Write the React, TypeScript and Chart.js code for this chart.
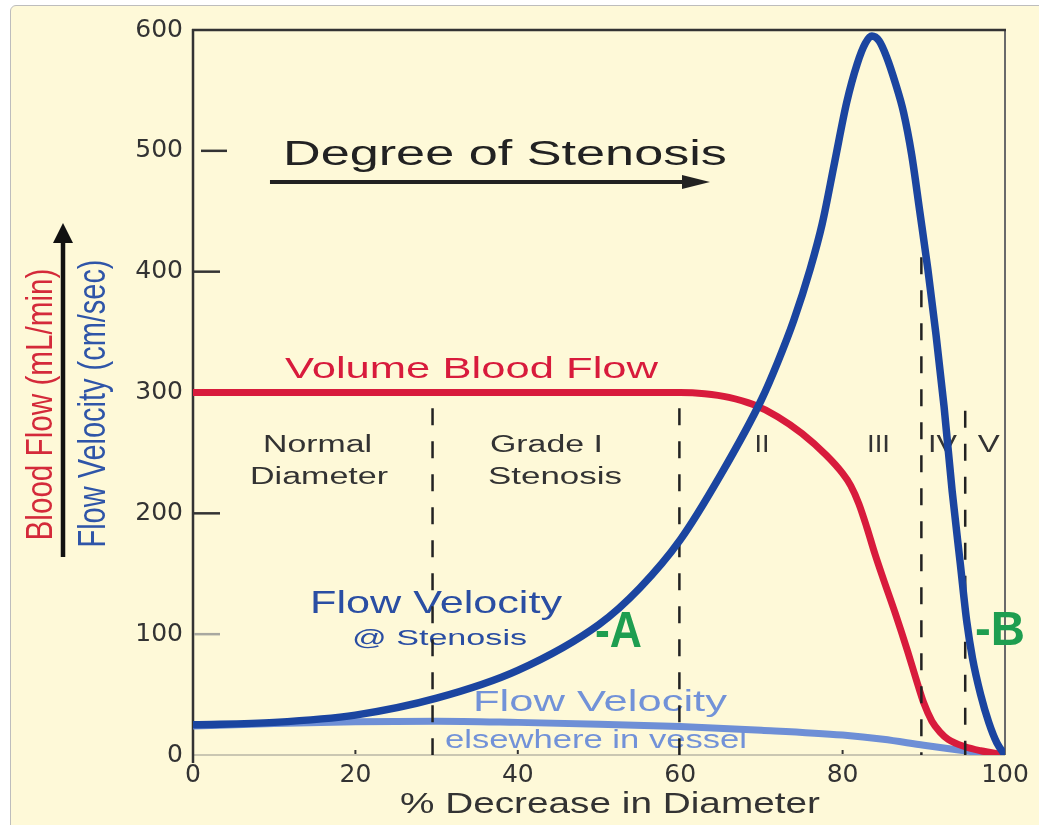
import React, { useEffect, useRef } from "react";
import { Chart, registerables } from "chart.js";

Chart.register(...registerables);

// ---- data ----
const stenosisPct = [0, 10, 20, 30, 40, 50, 55, 60, 65, 70, 72, 74, 76, 77.5, 79, 80.5, 81.8, 82.8, 83.6, 84.5, 85.4, 86.5, 87.5, 88.5, 89.5, 90.5, 91.5, 92.5, 93.5, 94.5, 95.3, 96, 97, 98, 99, 100];
const velocityAtStenosis = [25, 27, 33, 47, 70, 108, 138, 178, 232, 294, 325, 360, 402, 440, 490, 540, 572, 589, 595, 591, 578, 556, 532, 497, 450, 402, 348, 288, 218, 158, 110, 80, 50, 27, 10, 0];

const flowPct = [0, 20, 40, 60, 63, 66, 69, 72, 75, 78, 80, 81, 82, 83, 84, 85, 86.5, 88, 89, 90, 91, 92, 93, 95, 97, 100];
const volumeFlow = [300, 300, 300, 300, 299, 296, 290, 280, 266, 248, 233, 223, 208, 188, 166, 146, 117, 86, 64, 43, 28, 19, 13, 7, 3.5, 0];

const elsewherePct = [0, 10, 20, 30, 40, 50, 60, 70, 80, 85, 90, 95, 100];
const velocityElsewhere = [24, 26, 27.5, 28, 27, 25.5, 23.5, 20.5, 16.5, 13, 8, 3.5, 0];

const gradeBoundaries = [29.5, 59.9, 89.7, 95.1];
const gradeBoundaryTops = [287, 287, 412, 285];

const yTickValues = [100, 200, 300, 400, 500];
const xMinorTicks = [20, 40, 80];

// ---- styles ----
const CREAM = "#fef9d8";
const RED = "#d81b3c";
const DBLUE = "#1b45a0";
const LBLUE = "#6e8fd6";
const DBLUE_TEXT = "#2a4ea3";
const LBLUE_TEXT = "#7292d8";
const GREEN = "#1e9e50";
const FONT = '"Liberation Sans", Arial, Helvetica, sans-serif';

const toPoints = (xs: number[], ys: number[]) => xs.map((x, i) => ({ x, y: ys[i] }));

function stretchedText(
  ctx: CanvasRenderingContext2D,
  text: string,
  cx: number,
  base: number,
  size: number,
  width: number,
  color: string,
  weight = "normal"
) {
  ctx.save();
  ctx.font = `${weight} ${size}px ${FONT}`;
  const w = ctx.measureText(text).width;
  ctx.translate(cx, base);
  ctx.scale(width / w, 1);
  ctx.fillStyle = color;
  ctx.textAlign = "center";
  ctx.textBaseline = "alphabetic";
  ctx.fillText(text, 0, 0);
  ctx.restore();
}

function rotatedText(
  ctx: CanvasRenderingContext2D,
  text: string,
  baseX: number,
  cy: number,
  size: number,
  length: number,
  capH: number,
  color: string
) {
  ctx.save();
  ctx.font = `normal ${size}px ${FONT}`;
  const w = ctx.measureText(text).width;
  ctx.translate(baseX, cy);
  ctx.rotate(-Math.PI / 2);
  ctx.scale(length / w, capH / (0.716 * size));
  ctx.fillStyle = color;
  ctx.textAlign = "center";
  ctx.textBaseline = "alphabetic";
  ctx.fillText(text, 0, 0);
  ctx.restore();
}

function arrow(
  ctx: CanvasRenderingContext2D,
  x1: number,
  y1: number,
  x2: number,
  y2: number,
  lw: number,
  headLen: number,
  headHalf: number,
  color: string
) {
  const ang = Math.atan2(y2 - y1, x2 - x1);
  const bx = x2 - Math.cos(ang) * headLen;
  const by = y2 - Math.sin(ang) * headLen;
  ctx.save();
  ctx.strokeStyle = color;
  ctx.fillStyle = color;
  ctx.lineWidth = lw;
  ctx.beginPath();
  ctx.moveTo(x1, y1);
  ctx.lineTo(bx + Math.cos(ang) * 2, by + Math.sin(ang) * 2);
  ctx.stroke();
  ctx.beginPath();
  ctx.moveTo(x2, y2);
  ctx.lineTo(bx - Math.sin(ang) * headHalf, by + Math.cos(ang) * headHalf);
  ctx.lineTo(bx + Math.sin(ang) * headHalf, by - Math.cos(ang) * headHalf);
  ctx.closePath();
  ctx.fill();
  ctx.restore();
}

type Lbl = { t: string; x: number; y: number; size: number; w: number; c: string; bold?: boolean };

const chartLabels: Lbl[] = [
  { t: "Degree of Stenosis", x: 38.42, y: 488.3, size: 35, w: 444, c: "#222" },
  { t: "Volume Blood Flow", x: 34.3, y: 312, size: 29.5, w: 373, c: RED },
  { t: "Normal", x: 15.33, y: 250.8, size: 23.5, w: 109, c: "#333" },
  { t: "Diameter", x: 15.52, y: 224.3, size: 23.5, w: 138, c: "#333" },
  { t: "Grade I", x: 43.53, y: 250.8, size: 23.5, w: 113, c: "#333" },
  { t: "Stenosis", x: 44.58, y: 224.3, size: 23.5, w: 134, c: "#333" },
  { t: "II", x: 70.07, y: 250.8, size: 23.5, w: 15, c: "#333" },
  { t: "III", x: 84.42, y: 250.8, size: 23.5, w: 23, c: "#333" },
  { t: "IV", x: 92.3, y: 250.8, size: 23.5, w: 29, c: "#333" },
  { t: "V", x: 98.0, y: 250.8, size: 23.5, w: 22, c: "#333" },
  { t: "Flow Velocity", x: 29.93, y: 117.5, size: 32, w: 252, c: DBLUE_TEXT },
  { t: "@ Stenosis", x: 30.36, y: 91.0, size: 22, w: 175, c: DBLUE_TEXT },
  { t: "-A", x: 52.4, y: 89.4, size: 50, w: 47, c: GREEN, bold: true },
  { t: "-B", x: 99.38, y: 91.0, size: 48, w: 50, c: GREEN, bold: true },
  { t: "Flow Velocity", x: 50.12, y: 36.4, size: 30, w: 254, c: LBLUE_TEXT },
  { t: "elsewhere in vessel", x: 49.63, y: 5.8, size: 25, w: 302, c: LBLUE_TEXT },
];

const decorPlugin = {
  id: "decor",
  beforeDatasetsDraw(chart: any) {
    const ctx: CanvasRenderingContext2D = chart.ctx;
    const xs = chart.scales.x;
    const ys = chart.scales.y;
    const { left, right, top, bottom } = chart.chartArea;

    ctx.save();
    ctx.lineCap = "butt";
    ctx.strokeStyle = "#b8b6a6";
    ctx.lineWidth = 1.5;
    ctx.beginPath();
    ctx.moveTo(left, bottom);
    ctx.lineTo(right, bottom);
    ctx.stroke();
    ctx.strokeStyle = "#6a6a6a";
    ctx.lineWidth = 2;
    ctx.beginPath();
    ctx.moveTo(right, top);
    ctx.lineTo(right, bottom);
    ctx.stroke();
    ctx.strokeStyle = "#333";
    ctx.lineWidth = 2.5;
    ctx.beginPath();
    ctx.moveTo(left - 1, top);
    ctx.lineTo(right + 1, top);
    ctx.stroke();
    ctx.beginPath();
    ctx.moveTo(left, top - 1);
    ctx.lineTo(left, bottom + 8);
    ctx.stroke();
    yTickValues.forEach((v) => {
      const py = ys.getPixelForValue(v);
      ctx.strokeStyle = v === 100 ? "#a8a8a0" : "#333";
      ctx.lineWidth = 2.5;
      const x0 = v === 500 ? left + 8 : left + 1;
      ctx.beginPath();
      ctx.moveTo(x0, py);
      ctx.lineTo(x0 + 26, py);
      ctx.stroke();
    });
    ctx.strokeStyle = "#333";
    ctx.lineWidth = 2;
    xMinorTicks.forEach((v) => {
      const px = xs.getPixelForValue(v);
      ctx.beginPath();
      ctx.moveTo(px, bottom - 5);
      ctx.lineTo(px, bottom - 1);
      ctx.stroke();
    });
    ctx.restore();

    chartLabels.forEach((l) => {
      stretchedText(
        ctx,
        l.t,
        xs.getPixelForValue(l.x),
        ys.getPixelForValue(l.y),
        l.size,
        l.w,
        l.c,
        l.bold ? "bold" : "normal"
      );
    });

    arrow(ctx, xs.getPixelForValue(9.48), ys.getPixelForValue(474.2), xs.getPixelForValue(63.67), ys.getPixelForValue(474.2), 4, 28, 7, "#222");

    stretchedText(ctx, "% Decrease in Diameter", xs.getPixelForValue(51.35), bottom + 58, 29, 420, "#333");

    const cy = (top + bottom) / 2 + 12;
    rotatedText(ctx, "Blood Flow (mL/min)", left - 141, cy, 29, 272, 27, "#d42a3a");
    rotatedText(ctx, "Flow Velocity (cm/sec)", left - 88, cy - 1, 29, 288, 28, "#2f55a8");
    arrow(ctx, left - 130, bottom - 198, left - 130, top + 193, 4.5, 20, 10, "#111");
  },
};

export default function App() {
  const ref = useRef<HTMLCanvasElement>(null);

  useEffect(() => {
    document.body.style.margin = "0";
    document.body.style.overflow = "hidden";
    const canvas = ref.current;
    if (!canvas) return;

    const chart = new Chart(canvas, {
      type: "line",
      data: {
        datasets: [
          {
            label: "Flow Velocity @ Stenosis",
            data: toPoints(stenosisPct, velocityAtStenosis),
            borderColor: DBLUE,
            borderWidth: 7.5,
            pointRadius: 0,
            cubicInterpolationMode: "monotone",
            borderCapStyle: "round",
            borderJoinStyle: "round",
            order: 0,
          } as any,
          ...gradeBoundaries.map((b, i) => ({
            label: `Grade boundary ${b}%`,
            data: [
              { x: b, y: gradeBoundaryTops[i] },
              { x: b, y: 0 },
            ],
            borderColor: "#222",
            borderWidth: 2.5,
            borderDash: [17, 16],
            pointRadius: 0,
            tension: 0,
            order: 1,
          })),
          {
            label: "Volume Blood Flow",
            data: toPoints(flowPct, volumeFlow),
            borderColor: RED,
            borderWidth: 7,
            pointRadius: 0,
            cubicInterpolationMode: "monotone",
            borderCapStyle: "round",
            borderJoinStyle: "round",
            order: 2,
          } as any,
          {
            label: "Flow Velocity elsewhere in vessel",
            data: toPoints(elsewherePct, velocityElsewhere),
            borderColor: LBLUE,
            borderWidth: 7,
            pointRadius: 0,
            cubicInterpolationMode: "monotone",
            borderCapStyle: "round",
            order: 3,
          } as any,
        ],
      },
      options: {
        animation: false,
        responsive: false,
        events: [],
        layout: { padding: { left: 0, right: 34, top: 30, bottom: 0 } },
        plugins: {
          legend: { display: false },
          tooltip: { enabled: false },
        },
        scales: {
          x: {
            type: "linear",
            min: 0,
            max: 100,
            ticks: {
              stepSize: 20,
              font: { family: '"DejaVu Sans", sans-serif', size: 25 },
              color: "#333",
              padding: 5,
              maxRotation: 0,
              autoSkip: false,
            },
            grid: { display: false, drawTicks: false },
            border: { display: false },
            afterFit: (s: any) => {
              s.height = 70;
            },
          },
          y: {
            type: "linear",
            min: 0,
            max: 600,
            ticks: {
              stepSize: 100,
              font: { family: '"DejaVu Sans", sans-serif', size: 25 },
              color: "#333",
              padding: 10,
            },
            grid: { display: false, drawTicks: false },
            border: { display: false },
            afterFit: (s: any) => {
              s.width = 193;
            },
          },
        },
      },
      plugins: [decorPlugin],
    });

    return () => chart.destroy();
  }, []);

  return (
    <div style={{ position: "relative", width: 1039, height: 825, background: "#fff", overflow: "hidden" }}>
      <div
        style={{
          position: "absolute",
          left: 10,
          top: 5,
          width: 1045,
          height: 835,
          background: CREAM,
          border: "1.5px solid #bdbdbd",
          borderRadius: 6,
          boxSizing: "border-box",
        }}
      />
      <canvas
        ref={ref}
        width={1039}
        height={825}
        style={{ position: "absolute", left: 0, top: 0, width: 1039, height: 825 }}
      />
    </div>
  );
}
